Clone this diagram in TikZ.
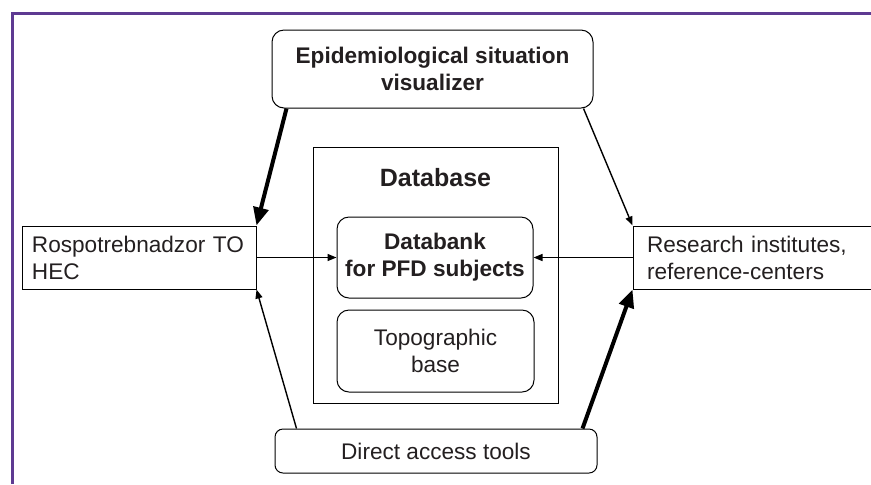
\documentclass[tikz,border=0pt]{standalone}
\usepackage{fontspec}
\setmainfont{Liberation Sans}
\usetikzlibrary{arrows.meta, positioning, calc}
\definecolor{framepurple}{RGB}{94,58,146}
\definecolor{txtgray}{RGB}{35,31,32}

\begin{document}
\begin{tikzpicture}[
    x=0.5pt, y=-0.5pt,
    txt/.style={font=\fontsize{11.3}{13.5}\selectfont, text=txtgray},
    rbox/.style={draw, line width=0.5pt, rounded corners=6pt, align=center, inner sep=0pt, txt},
    sbox/.style={draw, line width=0.5pt, align=left, inner xsep=5pt, inner ysep=0pt, txt},
    thin/.style={line width=0.7pt, -{Triangle[length=4.5pt,width=3.5pt]}},
    thick/.style={line width=2pt, -{Triangle[length=9pt,width=7.5pt]}}
]
    \useasboundingbox (0,0) rectangle (871,484);
    % frame
    \draw[framepurple, line width=1.5pt] (12,484) -- (12,13) -- (871,13);

    \node[rbox, font=\fontsize{11.3}{13.5}\selectfont\bfseries, minimum width=160.5pt, minimum height=39pt] (vis) at (432.5,69) {Epidemiological situation\\visualizer};

    \node[draw, line width=0.5pt, minimum width=122.5pt, minimum height=128pt] (db) at (435.5,275) {};
    \node[txt, font=\fontsize{12.5}{15}\selectfont\bfseries] (dblabel) at (435.5,178) {Database};
    \node[rbox, font=\fontsize{11.3}{13.5}\selectfont\bfseries, minimum width=98pt, minimum height=40.5pt] (bank) at (435,257.5) {Databank\\for PFD subjects};
    \node[rbox, minimum width=98.5pt, minimum height=41pt] (topo) at (435.5,351) {Topographic\\base};

    \node[rbox, rounded corners=4pt, minimum width=161pt, minimum height=22pt] (tools) at (436,451) {Direct access tools};

    \node[sbox, text width=107pt, minimum height=31.5pt] (roz) at (139,257.5) {Rospotrebnadzor TO\\HEC};
    \node[sbox, inner xsep=7pt, text width=105pt, minimum height=31.5pt] (inst) at (752,257.5) {Research institutes,\\reference-centers};

    \draw[thick] ([xshift=7.5pt]vis.south west) -- (roz.north east);
    \draw[thin] ([xshift=-5pt]vis.south east) -- (inst.north west);
    \draw[thin] (roz.east) -- (bank.west);
    \draw[thin] (inst.west) -- (bank.east);
    \draw[thin] ([xshift=11pt]tools.north west) -- (roz.south east);
    \draw[thick] ([xshift=-7.5pt]tools.north east) -- (inst.south west);
\end{tikzpicture}
\end{document}
